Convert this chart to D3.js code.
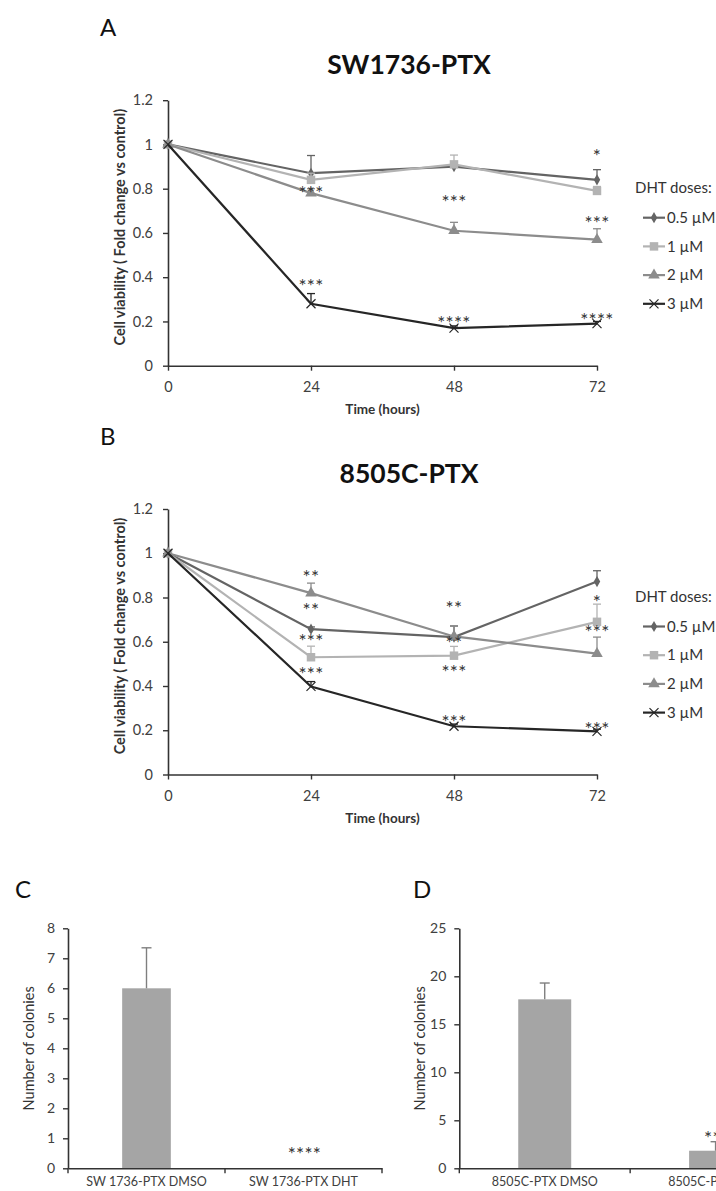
<!DOCTYPE html>
<html lang="en">
<head>
<meta charset="utf-8" />
<title>DHT and cell viability</title>
<script src="https://cdn.jsdelivr.net/npm/d3@7"></script>
<style>
  body { margin: 0; background: #fff; }
  svg text { font-family: Lato, "Open Sans", sans-serif; }
</style>
</head>
<body>
<div id="fig"></div>
<script>
// x values of the viability curves (hours)
var times = [0, 24, 48, 72];
var doses = ["0.5 µM", "1 µM", "2 µM", "3 µM"];
var yTicks = [0, 0.2, 0.4, 0.6, 0.8, 1, 1.2];

// A - SW1736-PTX, fold change vs control
var sw05 = [1, 0.87, 0.90, 0.84];
var sw1 = [1, 0.84, 0.91, 0.79];
var sw2 = [1, 0.78, 0.61, 0.57];
var sw3 = [1, 0.28, 0.17, 0.19];
var swErr05 = [0, 0.08, 0.02, 0.046];
var swErr1 = [0, 0.03, 0.042, 0.02];
var swErr2 = [0, 0.02, 0.038, 0.049];
var swErr3 = [0, 0.046, 0.01, 0.01];
var swStars = [
    { t: 24, v: 0.797, s: "***" }, { t: 24, v: 0.376, s: "***" },
    { t: 48, v: 0.757, s: "***" }, { t: 48, v: 0.208, s: "****" },
    { t: 72, v: 0.962, s: "*" }, { t: 72, v: 0.662, s: "***" }, { t: 72, v: 0.223, s: "****" }
];

// B - 8505C-PTX
var c05 = [1, 0.657, 0.621, 0.872];
var c1 = [1, 0.53, 0.537, 0.69];
var c2 = [1, 0.82, 0.624, 0.546];
var c3 = [1, 0.398, 0.218, 0.195];
var cErr05 = [0, 0.01, 0.05, 0.049];
var cErr1 = [0, 0.05, 0.042, 0.08];
var cErr2 = [0, 0.045, 0.048, 0.075];
var cErr3 = [0, 0.022, 0.01, 0.01];
var cStars = [
    { t: 24, v: 0.910, s: "**" }, { t: 24, v: 0.759, s: "**" },
    { t: 24, v: 0.617, s: "***" }, { t: 24, v: 0.469, s: "***" },
    { t: 48, v: 0.767, s: "**" }, { t: 48, v: 0.609, s: "**" },
    { t: 48, v: 0.477, s: "***" }, { t: 48, v: 0.251, s: "***" },
    { t: 72, v: 0.797, s: "*" }, { t: 72, v: 0.659, s: "***" }, { t: 72, v: 0.221, s: "***" }
];

// C and D - colony counts
var swGroups = ["SW 1736-PTX DMSO", "SW 1736-PTX DHT"];
var swColonies = [6, 0];
var swColErr = [1.35, 0];
var swColStars = ["", "****"];
var swStarAt = [0, 0.58];
var swColTicks = [0, 1, 2, 3, 4, 5, 6, 7, 8];

var cGroups = ["8505C-PTX DMSO", "8505C-PTX DHT"];
var cColonies = [17.6, 1.83];
var cColErr = [1.7, 0.94];
var cColStars = ["", "***"];
var cStarAt = [0, 3.47];
var cColTicks = [0, 5, 10, 15, 20, 25];

// look of the four dose series
var doseColors = ["#646464", "#b3b3b3", "#8c8c8c", "#262626"];
var doseMarks = ["diamond", "square", "triangle", "x"];
var textColor = "#404040";

var svg = d3.select("#fig")
    .append("svg")
    .attr("width", 716)
    .attr("height", 1191);

svg.append("rect").attr("width", 716).attr("height", 1191).attr("fill", "#fff");

function markerPath(kind) {
    if (kind == "diamond") return d3.symbol().type(d3.symbolDiamond).size(36)();
    if (kind == "square") return d3.symbol().type(d3.symbolSquare).size(72)();
    if (kind == "triangle") return d3.symbol().type(d3.symbolTriangle).size(58)();
    return "M-4.5,-4.5L4.5,4.5M-4.5,4.5L4.5,-4.5";
}

function drawMarker(g, kind, color, cx, cy) {
    var p = g.append("path")
        .attr("d", markerPath(kind))
        .attr("transform", "translate(" + cx + "," + cy + ")");
    if (kind == "x") p.attr("fill", "none").attr("stroke", color).attr("stroke-width", 1.2);
    else p.attr("fill", color);
}

function styleAxis(g) {
    g.select(".domain").attr("stroke", "#333").attr("stroke-width", 1.6);
    g.selectAll(".tick line").attr("stroke", "#333").attr("stroke-width", 1.4);
    g.selectAll(".tick text").attr("fill", textColor).attr("font-family", "Lato");
}

function starText(sel) {
    sel.attr("dy", "0.55em")
        .attr("text-anchor", "middle")
        .attr("font-size", 19)
        .attr("letter-spacing", 0.3)
        .attr("fill", "#333");
}

function lineChart(top, letter, title, series, errs, stars) {
    var x = d3.scaleLinear().domain([0, 72]).range([168, 597]);
    var y = d3.scaleLinear().domain([0, 1.2]).range([top + 265.5, top]);
    var g = svg.append("g");

    g.append("text").attr("x", 100).attr("y", top - 64.5)
        .attr("font-size", 24).attr("fill", "#111").text(letter);
    g.append("text").attr("x", 409).attr("y", top - 26.5)
        .attr("text-anchor", "middle").attr("font-size", 26.5).attr("font-weight", "bold")
        .attr("fill", "#111").text(title);

    var ya = g.append("g")
        .attr("transform", "translate(" + x(0) + ",0)")
        .call(d3.axisLeft(y).tickValues(yTicks).tickSize(5).tickSizeOuter(0).tickPadding(10)
            .tickFormat(function (d) { return String(+d.toFixed(1)); }));
    ya.selectAll(".tick text").attr("font-size", 14.5);
    styleAxis(ya);

    var xa = g.append("g")
        .attr("transform", "translate(0," + y(0) + ")")
        .call(d3.axisBottom(x).tickValues(times).tickSize(5).tickSizeOuter(0).tickPadding(11));
    xa.selectAll(".tick text").attr("font-size", 14.5);
    styleAxis(xa);

    g.append("text").attr("x", (x(0) + x(72)) / 2).attr("y", top + 314)
        .attr("text-anchor", "middle").attr("font-size", 13.5).attr("font-weight", "bold")
        .attr("fill", "#333").text("Time (hours)");
    g.append("text")
        .attr("transform", "translate(125," + (top + 127) + ")rotate(-90)")
        .attr("text-anchor", "middle").attr("font-size", 14.5).attr("font-weight", "bold")
        .attr("fill", "#333").text("Cell viability ( Fold change vs control)");

    // series: error bars, line, markers
    series.forEach(function (vals, si) {
        var col = doseColors[si];
        vals.forEach(function (v, i) {
            var e = errs[si][i];
            if (e <= 0) return;
            g.append("line").attr("x1", x(times[i])).attr("x2", x(times[i]))
                .attr("y1", y(v)).attr("y2", y(v + e))
                .attr("stroke", col).attr("stroke-width", 1.3);
            g.append("line").attr("x1", x(times[i]) - 4).attr("x2", x(times[i]) + 4)
                .attr("y1", y(v + e)).attr("y2", y(v + e))
                .attr("stroke", col).attr("stroke-width", 1.3);
        });
        g.append("path")
            .datum(vals)
            .attr("fill", "none")
            .attr("stroke", col)
            .attr("stroke-width", 2.2)
            .attr("d", d3.line()
                .x(function (d, i) { return x(times[i]); })
                .y(function (d) { return y(d); }));
        vals.forEach(function (v, i) {
            drawMarker(g, doseMarks[si], col, x(times[i]), y(v));
        });
    });

    g.selectAll(".star")
        .data(stars)
        .enter()
        .append("text")
        .attr("x", function (d) { return x(d.t); })
        .attr("y", function (d) { return y(d.v); })
        .call(starText)
        .text(function (d) { return d.s; });

    // legend
    g.append("text").attr("x", 635).attr("y", top + 88).attr("dy", "0.35em")
        .attr("font-size", 15).attr("fill", "#333").text("DHT doses:");
    doses.forEach(function (name, i) {
        var ly = top + 117.5 + i * 28.7;
        g.append("line").attr("x1", 643).attr("x2", 665).attr("y1", ly).attr("y2", ly)
            .attr("stroke", doseColors[i]).attr("stroke-width", 2.2);
        drawMarker(g, doseMarks[i], doseColors[i], 654, ly);
        g.append("text").attr("x", 667).attr("y", ly).attr("dy", "0.35em")
            .attr("font-size", 15).attr("fill", "#333").text(name);
    });
}

function barChart(left, right, letter, letterX, groups, vals, errs, marks, markAt, ticks) {
    var y = d3.scaleLinear().domain([0, d3.max(ticks)]).range([1168.3, 928.3]);
    var x = d3.scaleBand().domain(groups).range([left, right]);
    var g = svg.append("g");
    var barW = x.bandwidth() * 0.31;

    g.append("text").attr("x", letterX).attr("y", 898)
        .attr("font-size", 24).attr("fill", "#111").text(letter);

    g.selectAll(".bar")
        .data(vals)
        .enter()
        .append("rect")
        .attr("x", function (d, i) { return x(groups[i]) + x.bandwidth() / 2 - barW / 2; })
        .attr("y", function (d) { return y(d); })
        .attr("width", barW)
        .attr("height", function (d) { return y(0) - y(d); })
        .attr("fill", "#a5a5a5");

    vals.forEach(function (v, i) {
        if (errs[i] <= 0) return;
        var cx = x(groups[i]) + x.bandwidth() / 2;
        g.append("line").attr("x1", cx).attr("x2", cx).attr("y1", y(v)).attr("y2", y(v + errs[i]))
            .attr("stroke", "#7f7f7f").attr("stroke-width", 1.4);
        g.append("line").attr("x1", cx - 5).attr("x2", cx + 5)
            .attr("y1", y(v + errs[i])).attr("y2", y(v + errs[i]))
            .attr("stroke", "#7f7f7f").attr("stroke-width", 1.4);
    });

    marks.forEach(function (s, i) {
        if (!s) return;
        g.append("text").attr("x", x(groups[i]) + x.bandwidth() / 2 + 1).attr("y", y(markAt[i]))
            .call(starText).text(s);
    });

    var ya = g.append("g")
        .attr("transform", "translate(" + left + ",0)")
        .call(d3.axisLeft(y).tickValues(ticks).tickSize(5).tickSizeOuter(0).tickPadding(8));
    ya.selectAll(".tick text").attr("font-size", 14);
    styleAxis(ya);

    var xa = g.append("g")
        .attr("transform", "translate(0," + y(0) + ")")
        .call(d3.axisBottom(x).tickSize(0).tickSizeOuter(0).tickPadding(9));
    xa.selectAll(".tick text").attr("font-size", 12.5);
    styleAxis(xa);
    // tick marks sit on the category boundaries
    var edges = groups.map(function (d) { return x(d); }).concat([x(groups[groups.length - 1]) + x.bandwidth()]);
    g.selectAll(".edge")
        .data(edges)
        .enter()
        .append("line")
        .attr("x1", function (d) { return d; })
        .attr("x2", function (d) { return d; })
        .attr("y1", y(0))
        .attr("y2", y(0) + 5)
        .attr("stroke", "#333")
        .attr("stroke-width", 1.4);

    g.append("text")
        .attr("transform", "translate(" + (left - 34) + "," + ((y(0) + y(d3.max(ticks))) / 2) + ")rotate(-90)")
        .attr("text-anchor", "middle").attr("font-size", 14.5).attr("fill", "#333")
        .text("Number of colonies");
}

lineChart(100.2, "A", "SW1736-PTX", [sw05, sw1, sw2, sw3], [swErr05, swErr1, swErr2, swErr3], swStars);
lineChart(509, "B", "8505C-PTX", [c05, c1, c2, c3], [cErr05, cErr1, cErr2, cErr3], cStars);
barChart(68, 382, "C", 15, swGroups, swColonies, swColErr, swColStars, swStarAt, swColTicks);
barChart(459.3, 801, "D", 413, cGroups, cColonies, cColErr, cColStars, cStarAt, cColTicks);
</script>
</body>
</html>
